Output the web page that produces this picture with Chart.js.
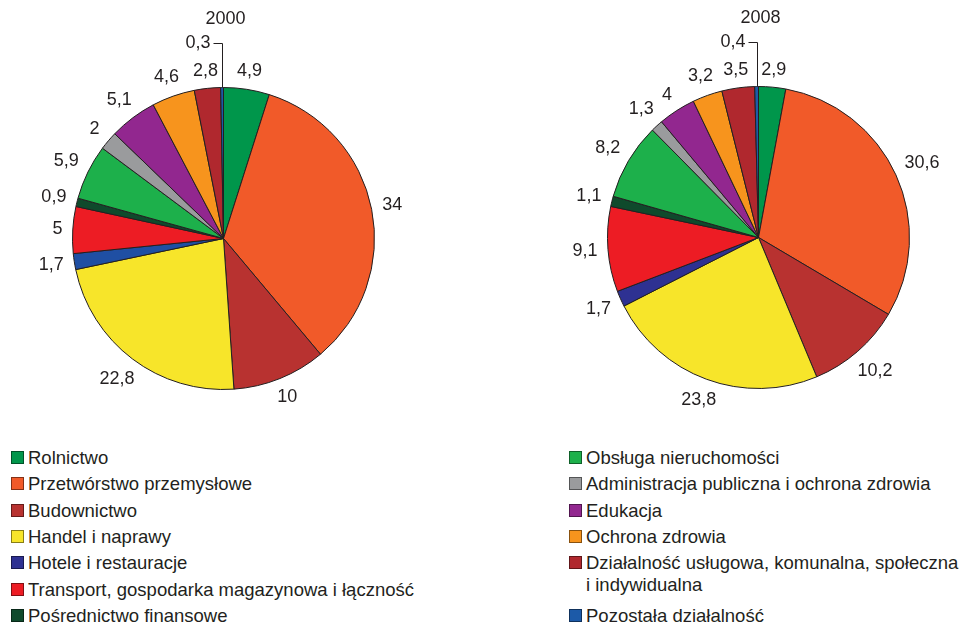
<!DOCTYPE html>
<html lang="pl">
<head>
<meta charset="utf-8">
<title>Struktura pracujących 2000 / 2008</title>
<script src="https://cdn.jsdelivr.net/npm/chart.js@4.4.1/dist/chart.umd.min.js"></script>
<style>
  html, body { margin: 0; padding: 0; background: #fff; }
  body { width: 968px; height: 627px; position: relative; overflow: hidden;
         font-family: "Liberation Sans", Arial, sans-serif; color: #231f20; }
  canvas { position: absolute; top: 0; }
  #pie2000 { left: 0; }
  #pie2008 { left: 518px; }
  .item { position: absolute; display: flex; align-items: flex-start; font-size: 18.5px; line-height: 22px; }
  .box { flex: 0 0 auto; width: 11px; height: 11px; margin-top: 4px; margin-right: 4px;
         border: 1px solid rgba(0,0,0,0.45); }
  .txt { white-space: normal; }
</style>
</head>
<body>
<canvas id="pie2000" width="450" height="440"></canvas>
<canvas id="pie2008" width="450" height="440"></canvas>
<div id="legend"></div>

<script>
// categories (clockwise from the top of each pie)
const categories = [
  'Rolnictwo',
  'Przetwórstwo przemysłowe',
  'Budownictwo',
  'Handel i naprawy',
  'Hotele i restauracje',
  'Transport, gospodarka magazynowa i łączność',
  'Pośrednictwo finansowe',
  'Obsługa nieruchomości',
  'Administracja publiczna i ochrona zdrowia',
  'Edukacja',
  'Ochrona zdrowia',
  'Działalność usługowa, komunalna, społeczna i indywidualna',
  'Pozostała działalność'
];

// shares in %
const values2000 = [4.9, 34, 10, 22.8, 1.7, 5, 0.9, 5.9, 2, 5.1, 4.6, 2.8, 0.3];
const values2008 = [2.9, 30.6, 10.2, 23.8, 1.7, 9.1, 1.1, 8.2, 1.3, 4, 3.2, 3.5, 0.4];

const years = ['2000', '2008'];

const colors = [
  '#00964b', '#f15a29', '#b83230', '#f7e52a', '#2e3192', '#ed1c24', '#0f4a2c',
  '#1db04b', '#9a9b9d', '#92278f', '#f7941d', '#b0282e', '#1c5aa8'
];
// the 2000 pie prints "Hotele i restauracje" in a lighter blue
const colors2000 = colors.map((c, i) => i === 4 ? '#1f4fa3' : c);

const TEXT = '#231f20';
const FONT = '"Liberation Sans", Arial, sans-serif';

function fmt(v) {
  return String(v).replace('.', ',');
}

// values around the pie, year on top, leader line for the tiny last slice
const outsideLabels = {
  id: 'outsideLabels',
  afterDatasetsDraw(chart, args, opts) {
    const ctx = chart.ctx;
    const meta = chart.getDatasetMeta(0);
    const vals = chart.data.datasets[0].data;
    let cx = 0, cy = 0, r = 0;
    ctx.save();
    ctx.font = '18px ' + FONT;
    ctx.fillStyle = TEXT;
    ctx.strokeStyle = TEXT;
    ctx.lineWidth = 1;
    ctx.textBaseline = 'middle';
    meta.data.forEach((arc, i) => {
      const p = arc.getProps(['x', 'y', 'startAngle', 'endAngle', 'outerRadius'], true);
      cx = p.x; cy = p.y; r = p.outerRadius;
      const mid = (p.startAngle + p.endAngle) / 2;
      const c = Math.cos(mid), s = Math.sin(mid);
      const txt = fmt(vals[i]);
      if (i === opts.leaderIndex) {
        const ax = Math.round(p.x + c * r) + 0.5;
        const ay = p.y + s * r;
        const topY = Math.round(p.y - r - 45) + 0.5;
        ctx.beginPath();
        ctx.moveTo(ax, ay);
        ctx.lineTo(ax, topY);
        ctx.lineTo(ax - 9, topY);
        ctx.stroke();
        ctx.textAlign = 'right';
        ctx.fillText(txt, ax - 12, topY);
        return;
      }
      const w = ctx.measureText(txt).width;
      const h = 13;
      const R = r + 10 + (w / 2) * Math.abs(c) + (h / 2) * Math.abs(s);
      ctx.textAlign = 'center';
      ctx.fillText(txt, p.x + c * R, p.y + s * R);
    });
    ctx.textAlign = 'center';
    ctx.fillText(opts.title, cx + 2, cy - r - 68);
    ctx.restore();
  }
};

function makePie(id, values, bg, year, padding) {
  return new Chart(document.getElementById(id), {
    type: 'pie',
    data: {
      labels: categories,
      datasets: [{ data: values, backgroundColor: bg, borderColor: TEXT, borderWidth: 1 }]
    },
    options: {
      responsive: false,
      animation: false,
      events: [],
      layout: { padding },
      plugins: {
        legend: { display: false },
        tooltip: { enabled: false },
        outsideLabels: { title: year, leaderIndex: values.length - 1 }
      }
    },
    plugins: [outsideLabels]
  });
}

makePie('pie2000', values2000, colors2000, years[0], { left: 72, right: 75, top: 87, bottom: 50 });
makePie('pie2008', values2008, colors, years[1], { left: 89, right: 58, top: 86, bottom: 51 });

// legend in two columns under the pies
const legendDiv = document.getElementById('legend');
const half = 7;
categories.forEach((name, i) => {
  const col = i < half ? 0 : 1;
  const row = col === 0 ? i : i - half;
  const item = document.createElement('div');
  item.className = 'item';
  item.style.left = (col === 0 ? 11 : 569) + 'px';
  item.style.top = (447 + row * 26.3) + 'px';
  const box = document.createElement('span');
  box.className = 'box';
  box.style.background = colors[i];
  const txt = document.createElement('span');
  txt.className = 'txt';
  txt.style.width = (col === 0 ? 520 : 377) + 'px';
  txt.textContent = name;
  item.appendChild(box);
  item.appendChild(txt);
  legendDiv.appendChild(item);
});
// last item of the right column sits one row lower, after the two-line entry
legendDiv.lastChild.style.top = (447 + 6 * 26.3) + 'px';
</script>
</body>
</html>
